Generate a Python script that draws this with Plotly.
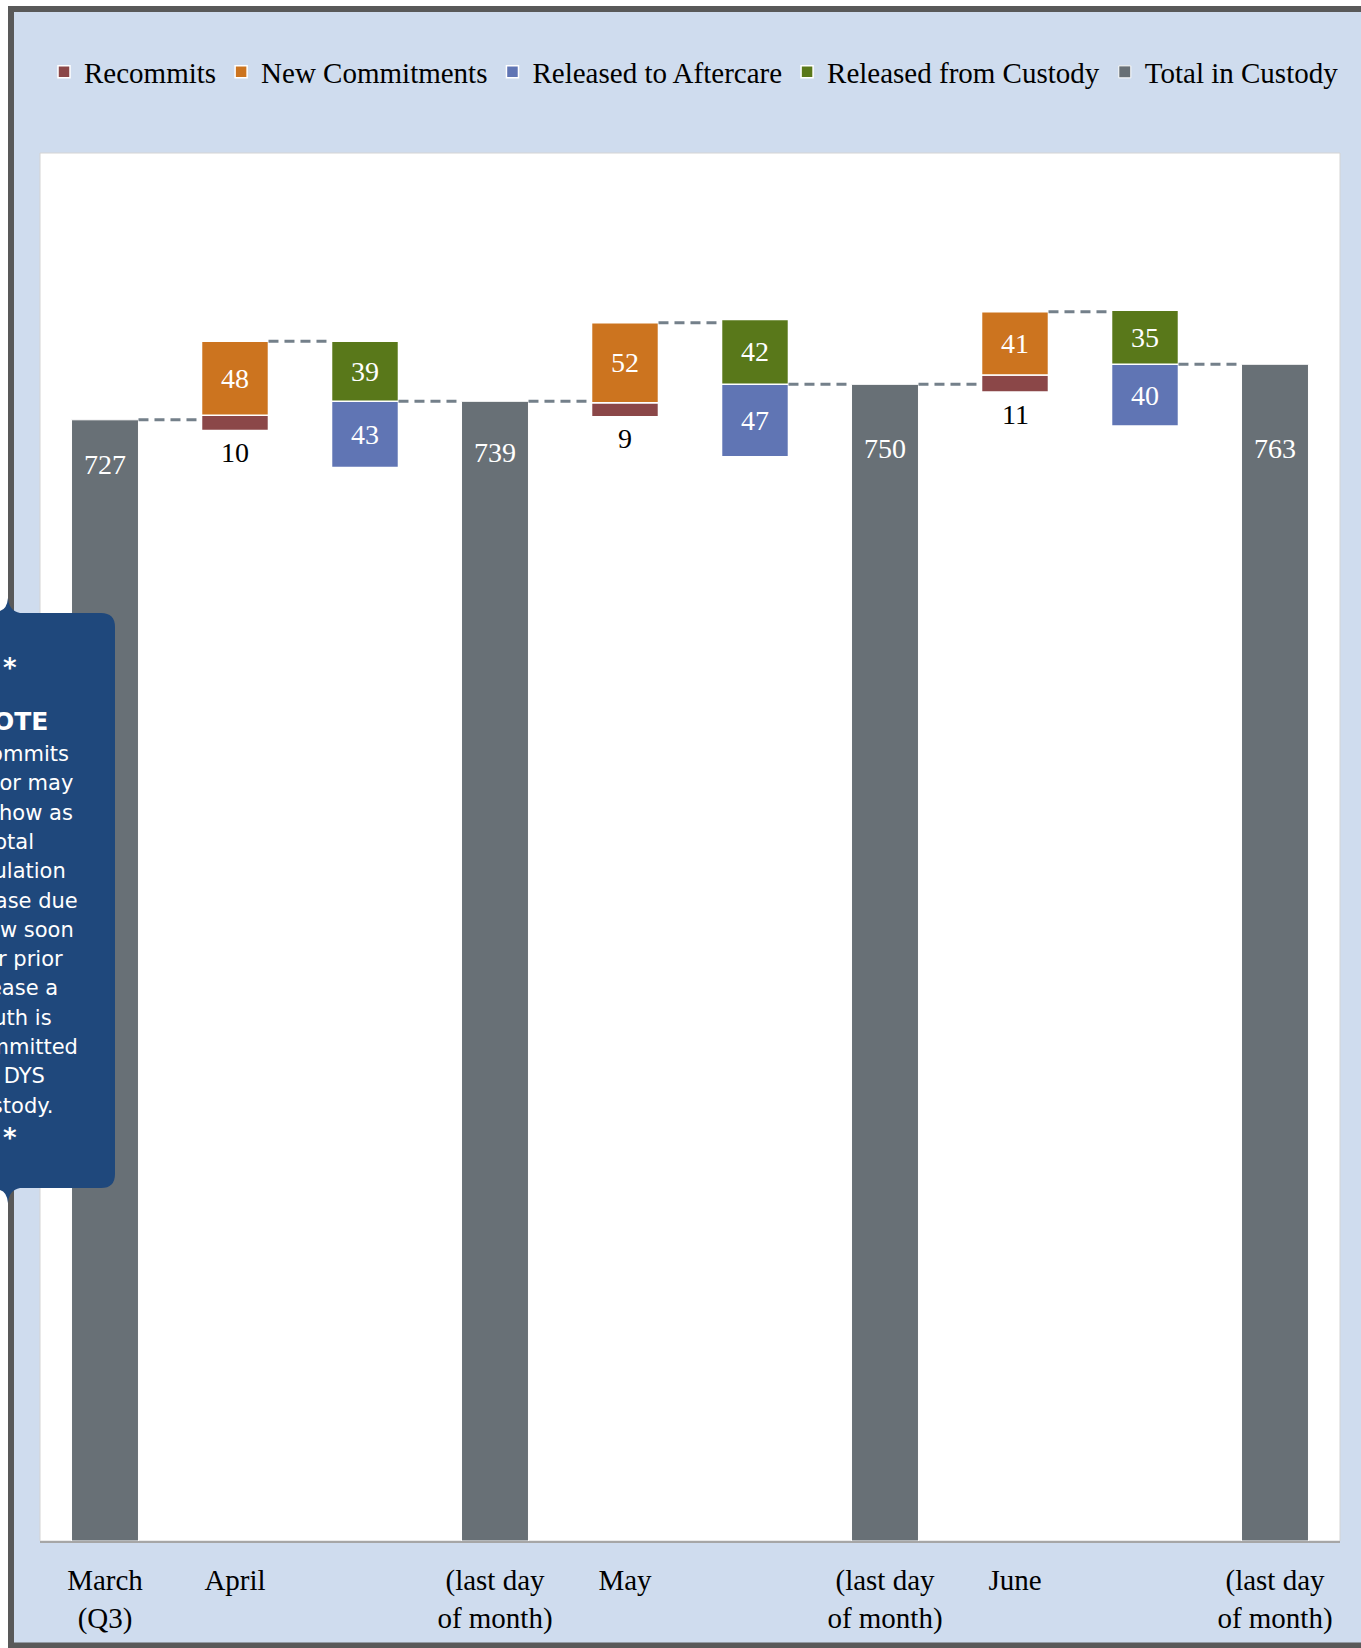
import plotly.graph_objects as go

# ---------------- data ----------------
tick_pos = [0, 1, 3, 4, 6, 7, 9]
tick_text = ["March<br>(Q3)", "April", "(last day<br>of month)", "May",
             "(last day<br>of month)", "June", "(last day<br>of month)"]

total_x = [0, 3, 6, 9]
total_vals = [727, 739, 750, 763]

in_x = [1, 4, 7]
recommit_vals = [10, 9, 11]
recommit_base = [720, 729, 745]
new_vals = [48, 52, 41]

out_x = [2, 5, 8]
aftercare_vals = [43, 47, 40]
aftercare_base = [696, 703, 723]
custody_vals = [39, 42, 35]

note_lines = ["Recommits", "may or may", "not show as", "total", "population",
              "increase due", "to how soon", "after prior", "release a",
              "youth is", "recommitted", "to DYS", "custody."]

# ---------------- styling ----------------
W, H = 1361, 1648
ML, MR, MT, MB = 40, 21, 153, 107
PW = W - ML - MR
PH = H - MT - MB
BW = 0.515
SERIF = "Liberation Serif, Times New Roman, serif"
SANS = "DejaVu Sans, sans-serif"

C_REC = "#8B4748"
C_NEW = "#CC741F"
C_AFT = "#6075B4"
C_CUS = "#59781A"
C_TOT = "#687076"
C_BG = "#CFDCEE"
C_NOTE = "#1F487C"

# pixel offsets of the total labels below the bar tops (label placement style)
total_label_shift = [-45, -51, -64, -84]


def px_x(p):
    return (p - ML) / PW


def px_y(p):
    return (H - MB - p) / PH


new_base = [b + r for b, r in zip(recommit_base, recommit_vals)]
custody_base = [b + a for b, a in zip(aftercare_base, aftercare_vals)]

fig = go.Figure()

line_w = dict(color="white", width=1.5)
label_font = dict(family=SERIF, size=28, color="white")

fig.add_trace(go.Bar(name="Recommits", x=in_x, y=recommit_vals, base=recommit_base,
                     width=BW, marker=dict(color=C_REC, line=line_w)))
fig.add_trace(go.Bar(name="New Commitments", x=in_x, y=new_vals, base=new_base,
                     width=BW, marker=dict(color=C_NEW, line=line_w),
                     text=new_vals, textposition="inside", insidetextanchor="middle",
                     textangle=0, textfont=label_font, constraintext="none"))
fig.add_trace(go.Bar(name="Released to Aftercare", x=out_x, y=aftercare_vals,
                     base=aftercare_base, width=BW, marker=dict(color=C_AFT, line=line_w),
                     text=aftercare_vals, textposition="inside", insidetextanchor="middle",
                     textangle=0, textfont=label_font, constraintext="none"))
fig.add_trace(go.Bar(name="Released from Custody", x=out_x, y=custody_vals,
                     base=custody_base, width=BW, marker=dict(color=C_CUS, line=line_w),
                     text=custody_vals, textposition="inside", insidetextanchor="middle",
                     textangle=0, textfont=label_font, constraintext="none"))
fig.add_trace(go.Bar(name="Total in Custody", x=total_x, y=total_vals, width=BW,
                     marker=dict(color=C_TOT, line=dict(color="white", width=1))))

# connector levels derived from data
level = {}
for x, v in zip(total_x, total_vals):
    level[x] = v
for x, b, n in zip(in_x, new_base, new_vals):
    level[x] = b + n
for x, b, a in zip(out_x, aftercare_base, aftercare_vals):
    level[x] = b + a
cx, cy = [], []
for i in range(9):
    cx += [i + BW / 2, i + 1 - BW / 2, None]
    cy += [level[i], level[i], None]
fig.add_trace(go.Scatter(x=cx, y=cy, mode="lines", showlegend=False, hoverinfo="skip",
                         line=dict(color="#74808A", width=3, dash="10px,6px")))

annotations = []
for x, v, s in zip(total_x, total_vals, total_label_shift):
    annotations.append(dict(x=x, y=v, xref="x", yref="y", text=str(v), showarrow=False,
                            yshift=s, yanchor="middle", font=label_font))
for x, b, r in zip(in_x, recommit_base, recommit_vals):
    annotations.append(dict(x=x, y=b, xref="x", yref="y", text=str(r), showarrow=False,
                            yshift=-22, yanchor="middle",
                            font=dict(family=SERIF, size=28, color="black")))

# note text
NOTE_CX = px_x(10)
annotations.append(dict(x=NOTE_CX, y=px_y(668), xref="paper", yref="paper", text="<b>*</b>",
                        showarrow=False, xanchor="center", yanchor="middle",
                        font=dict(family=SANS, size=26, color="white")))
annotations.append(dict(x=NOTE_CX, y=px_y(721), xref="paper", yref="paper", text="<b>NOTE</b>",
                        showarrow=False, xanchor="center", yanchor="middle",
                        font=dict(family=SANS, size=25, color="white")))
for k, t in enumerate(note_lines):
    annotations.append(dict(x=NOTE_CX, y=px_y(754 + 29.3 * k), xref="paper", yref="paper",
                            text=t, showarrow=False, xanchor="center", yanchor="middle",
                            font=dict(family=SANS, size=21, color="white")))
annotations.append(dict(x=NOTE_CX, y=px_y(1138), xref="paper", yref="paper", text="<b>*</b>",
                        showarrow=False, xanchor="center", yanchor="middle",
                        font=dict(family=SANS, size=26, color="white")))


def path_px(cmds):
    out = []
    for c in cmds:
        if isinstance(c, str):
            out.append(c)
        else:
            out.append(f"{px_x(c[0]):.5f},{px_y(c[1]):.5f}")
    return " ".join(out)


note_path = path_px([
    "M", (-140, 611), "L", (0, 611), "Q", (7, 609), (8, 598), "Q", (9, 611), (20, 613),
    "L", (101, 613), "Q", (115, 613), (115, 627), "L", (115, 1174),
    "Q", (115, 1188), (101, 1188), "L", (20, 1188), "Q", (9, 1190), (8, 1203),
    "Q", (7, 1192), (0, 1190), "L", (-140, 1190), "Z"])

shapes = [
    dict(type="rect", xref="paper", yref="paper", x0=px_x(11), x1=px_x(1430),
         y0=px_y(9), y1=px_y(1645.5), fillcolor=C_BG, line=dict(color="#595959", width=6),
         layer="below"),
    dict(type="rect", xref="paper", yref="paper", x0=0, x1=1, y0=0, y1=1,
         fillcolor="white", line=dict(color="#D4D4D4", width=1), layer="below"),
    dict(type="path", xref="paper", yref="paper", path=note_path, fillcolor=C_NOTE,
         line=dict(width=0), layer="above"),
]

fig.update_layout(
    width=W, height=H,
    margin=dict(l=ML, r=MR, t=MT, b=MB, pad=0, autoexpand=False),
    paper_bgcolor="white", plot_bgcolor="white",
    barmode="overlay",
    showlegend=True,
    legend=dict(orientation="h", x=px_x(694), xanchor="center", y=px_y(72),
                yanchor="middle", font=dict(family=SERIF, size=29, color="black"),
                bgcolor="rgba(0,0,0,0)", traceorder="normal"),
    xaxis=dict(range=[-0.5, 9.5], tickvals=tick_pos, ticktext=tick_text,
               tickfont=dict(family=SERIF, size=29, color="black"), showgrid=False,
               zeroline=False, showline=True, linecolor="#A6A6A6", linewidth=2,
               ticks="", ticklabelstandoff=12, automargin=False, fixedrange=True),
    yaxis=dict(range=[0, 900], visible=False, fixedrange=True, automargin=False),
    shapes=shapes,
    annotations=annotations,
    font=dict(family=SERIF),
)

fig.write_html("out.html", config={"displayModeBar": False},
               post_script="document.body.style.margin='0';")
